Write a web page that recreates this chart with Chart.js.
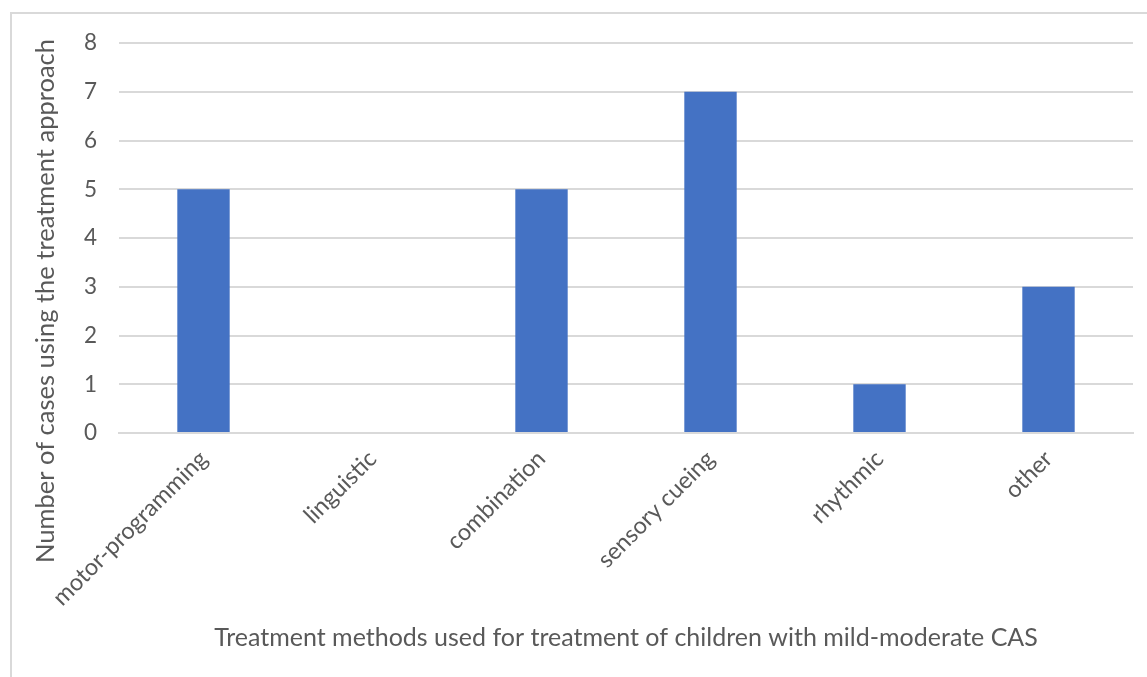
<!DOCTYPE html>
<html>
<head>
<meta charset="utf-8">
<script src="https://cdn.jsdelivr.net/npm/chart.js@4"></script>
<style>
  html, body { margin: 0; padding: 0; background: #fff; overflow: hidden; }
  #frame {
    position: absolute; left: 10px; top: 12px;
    width: 1200px; height: 720px;
    border: 2px solid #d9d9d9; box-sizing: border-box;
  }
  #wrap { position: absolute; left: 0; top: 0; width: 1147px; height: 677px; }
</style>
</head>
<body>
<div id="frame"></div>
<div id="wrap"><canvas id="casChart"></canvas></div>
<script>
const categories = ['motor-programming', 'linguistic', 'combination', 'sensory cueing', 'rhythmic', 'other'];
const caseCounts = [5, 0, 5, 7, 1, 3];
const yTicks = [0, 1, 2, 3, 4, 5, 6, 7, 8];

const FONT = 'Lato, "Open Sans", sans-serif';
const TEXT_COL = '#595959';
const GRID_COL = '#d9d9d9';
const Y_TITLE = 'Number of cases using the treatment approach';

// vertical axis title sits centred on the whole chart, not the plot area
const yTitlePlugin = {
    id: 'yTitle',
    afterDraw(chart) {
        const ctx = chart.ctx;
        ctx.save();
        ctx.translate(46, 301);
        ctx.rotate(-Math.PI / 2);
        ctx.font = '25.5px ' + FONT;
        ctx.fillStyle = TEXT_COL;
        ctx.textAlign = 'center';
        ctx.textBaseline = 'middle';
        ctx.fillText(Y_TITLE, 0, 0);
        ctx.restore();
    }
};

new Chart(document.getElementById('casChart'), {
    type: 'bar',
    data: {
        labels: categories,
        datasets: [{
            data: caseCounts,
            backgroundColor: '#4472c4',
            barPercentage: 0.31,
            categoryPercentage: 1
        }]
    },
    options: {
        responsive: true,
        maintainAspectRatio: false,
        animation: false,
        layout: { padding: { left: 0, right: 14, top: 43, bottom: 0 } },
        plugins: {
            legend: { display: false },
            tooltip: { enabled: false }
        },
        scales: {
            x: {
                grid: { display: false },
                border: { display: true, color: GRID_COL, width: 2 },
                ticks: {
                    color: TEXT_COL,
                    font: { family: FONT, size: 23.5 },
                    minRotation: 45,
                    maxRotation: 45,
                    padding: 4
                },
                title: {
                    display: true,
                    text: 'Treatment methods used for treatment of children with mild-moderate CAS',
                    color: TEXT_COL,
                    font: { family: FONT, size: 25 },
                    padding: { top: 0, bottom: 24 }
                },
                afterFit(scale) { scale.height = 244; }
            },
            y: {
                min: 0,
                max: 8,
                afterBuildTicks(scale) { scale.ticks = yTicks.map(v => ({ value: v })); },
                grid: { color: GRID_COL, lineWidth: 2, drawTicks: false },
                border: { display: false },
                ticks: {
                    color: TEXT_COL,
                    font: { family: FONT, size: 22.5 },
                    padding: 22
                },
                afterFit(scale) { scale.width = 119; }
            }
        }
    },
    plugins: [yTitlePlugin]
});
</script>
</body>
</html>
